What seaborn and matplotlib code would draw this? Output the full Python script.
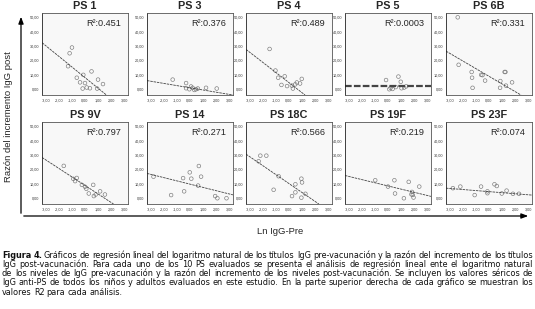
# Regresión lineal Ln IgG-Pre vs razón del incremento IgG post (10 PS)
import numpy as np
import pandas as pd
import matplotlib
matplotlib.use("Agg")
import matplotlib.pyplot as plt
import seaborn as sns

sns.set_style("white")
plt.rcParams['font.family'] = ['Liberation Sans', 'DejaVu Sans']

# --- data ---
names = ["PS 1", "PS 3", "PS 4", "PS 5", "PS 6B", "PS 9V", "PS 14", "PS 18C", "PS 19F", "PS 23F"]
r2_labels = ["0.451", "0.376", "0.489", "0.0003", "0.331", "0.797", "0.271", "0.566", "0.219", "0.074"]

ps1_x = [-1.0, -1.18, -1.3, -0.63, -0.13, 0.5, 1.0, 0.0, 0.13, -0.18, 0.38, 1.38, 0.93, -0.38]
ps1_y = [29, 25, 16, 8, 10, 12.4, 6.7, 4.3, 1.2, 0.5, 0.7, 3.6, 0.5, 4.8]
ps3_x = [-1.33, -0.3, -0.3, 0.08, 0.2, 0.46, 1.23, 2.05, 0.33, -0.05, 0.6]
ps3_y = [6.7, 4.3, 0.7, 1.9, 1.0, 0.0, 1.0, 0.5, -0.5, 0.0, 0.5]
ps4_x = [-1.49, -1.04, -0.83, -0.33, -0.58, -0.15, 0.98, 0.48, 0.6, 0.85, 0.22, 0.3]
ps4_y = [28, 13, 8, 9, 3, 2.2, 7.2, 3.4, 4.7, 4.0, 2.5, 0.5]
ps5_x = [-0.15, 0.8, 0.98, 0.1, 0.35, 1.24, 1.04, 0.6, 0.2, 1.4]
ps5_y = [6.4, 8.8, 5.2, 0.0, 0.2, 1.2, 0.7, 1.5, 1.0, 2.0]
ps6b_x = [-2.4, -2.33, -1.33, -1.3, -1.26, -0.6, -0.5, -0.3, 1.26, 0.87, 0.85, 1.3, 1.77, 1.2]
ps6b_y = [50, 17, 12, 8, 1, 10, 9.8, 6, 12, 5.7, 1, 2.5, 4.8, 12]
ps9v_x = [-1.63, -0.63, -0.76, -0.24, 0.1, 0.63, 0.29, 0.68, 1.16, 1.53, 0.82, -0.9, 0.0]
ps9v_y = [22.5, 14.1, 11.9, 9.3, 6.6, 9.3, 3.3, 1.5, 4.8, 2.6, 2.6, 13.5, 8.0]
ps14_x = [-2.8, -1.45, -0.53, -0.02, 0.1, 0.68, 0.85, 0.62, -0.45, 1.93, 2.1, 2.8]
ps14_y = [15, 2.2, 14, 18, 13.6, 22.4, 15, 8.8, 4.8, 1.5, 0.0, 0.0]
ps18c_x = [-2.2, -1.74, -2.33, -0.8, -1.18, 0.49, 0.95, 1.0, 0.49, 0.23, 1.26, 0.95]
ps18c_y = [29.6, 29.6, 25.7, 15.3, 5.9, 9.7, 13.6, 11.0, 4.1, 1.5, 3.1, 0.4]
ps19f_x = [-0.98, 0.49, 0.0, 0.54, 1.22, 1.59, 1.84, 1.8, 1.9, 2.4, 1.96]
ps19f_y = [12.5, 12.5, 8.1, 3.3, 0.0, 11.4, 4.4, 2.7, 2.3, 8.1, 0.5]
ps23f_x = [-2.77, -2.2, -0.61, -1.1, -0.12, 0.42, 0.6, 1.35, 0.98, 1.84, 2.3, -0.12]
ps23f_y = [7, 8.1, 8.1, 2.2, 4.8, 9.7, 8.5, 5.3, 3.3, 3.1, 3.1, 3.5]

# regression lines (y = intercept + slope * x)
slopes = [-7.36, -1.52, -7.0, 0.0, -5.3, -5.9, -2.26, -6.2, -2.2, -0.73]
intercepts = [8.1, 1.0, 4.6, 2.4, 9.0, 8.9, 9.8, 10.2, 8.55, 4.6]

xs = [ps1_x, ps3_x, ps4_x, ps5_x, ps6b_x, ps9v_x, ps14_x, ps18c_x, ps19f_x, ps23f_x]
ys = [ps1_y, ps3_y, ps4_y, ps5_y, ps6b_y, ps9v_y, ps14_y, ps18c_y, ps19f_y, ps23f_y]

x_ticks = [-3, -2, -1, 0, 1, 2, 3]
x_ticklabels = ["-3,00", "-2,00", "-1,00", "0,00", "1,00", "2,00", "3,00"]
y_ticks = [0, 10, 20, 30, 40, 50]
y_ticklabels = ["0,00", "10,00", "20,00", "30,00", "40,00", "50,00"]

caption = [
    "Figura 4. Gráficos de regresión lineal del logaritmo natural de los títulos IgG pre-vacunación y la razón del incremento de los títulos",
    "IgG post-vacunación. Para cada uno de los 10 PS evaluados se presenta el análisis de regresión lineal ente el logaritmo natural",
    "de los niveles de IgG pre-vacunación y la razón del incremento de los niveles post-vacunación. Se incluyen los valores séricos de",
    "IgG anti-PS de todos los niños y adultos evaluados en este estudio. En la parte superior derecha de cada gráfico se muestran los",
    "valores R2 para cada análisis.",
]

# --- figure ---
W, H = 535, 309
fig = plt.figure(figsize=(W / 100, H / 100), dpi=100)

lefts = [42, 147, 246, 345, 446]
tops = [13, 122]
aw, ah = 86, 82

for i, name in enumerate(names):
    row, col = divmod(i, 5)
    ax = fig.add_axes([lefts[col] / W, 1 - (tops[row] + ah) / H, aw / W, ah / H])
    ax.set_facecolor("#f8f8f8")
    ax.set_xlim(-3.3, 3.3)
    ax.set_ylim(-4, 53)
    df = pd.DataFrame({"x": xs[i], "y": ys[i]})
    sns.scatterplot(data=df, x="x", y="y", ax=ax, s=7, marker="o",
                    facecolor="none", edgecolor="#777777", linewidth=0.45)
    ax.axline((0, intercepts[i]), slope=slopes[i], color="#444444",
              lw=1.6 if name == "PS 5" else 0.6, ls=(0, (3, 1)))
    ax.set_xticks(x_ticks)
    ax.set_xticklabels(x_ticklabels)
    ax.set_yticks(y_ticks)
    ax.set_yticklabels(y_ticklabels)
    ax.tick_params(labelsize=2.7, length=1.2, width=0.4, pad=1, colors="#333333")
    ax.set_xlabel("")
    ax.set_ylabel("")
    for s in ax.spines.values():
        s.set_color("#555555")
        s.set_linewidth(0.6)
    ax.spines["left"].set_color("#222222")
    ax.set_title(name, fontsize=7.8, fontweight="bold", pad=3)
    ax.text(0.92, 0.87, "R²:" + r2_labels[i], transform=ax.transAxes,
            ha="right", va="center", fontsize=6.6)

# axis arrows and labels on an overlay in pixel coords
ov = fig.add_axes([0, 0, 1, 1], facecolor="none")
ov.set_xlim(0, W)
ov.set_ylim(H, 0)
ov.axis("off")
ov.annotate("", xy=(21, 14), xytext=(21, 216),
            arrowprops=dict(arrowstyle="-|>,head_width=0.15,head_length=0.4", lw=0.9, color="black"))
ov.annotate("", xy=(531, 216), xytext=(21, 216),
            arrowprops=dict(arrowstyle="-|>,head_width=0.15,head_length=0.4", lw=0.9, color="black"))
ov.text(9, 117, "Razón del incremento IgG post", rotation=90, ha="center", va="center", fontsize=6.8)
ov.text(280, 232, "Ln IgG-Pre", ha="center", va="center", fontsize=6.8)

# justified caption
renderer = fig.canvas.get_renderer()
x0, x1 = 2, 533
for i, line in enumerate(caption):
    yy = 1 - (255 + i * 9.3) / H
    words = line.split(" ")
    arts = []
    for j, w in enumerate(words):
        bold = (i == 0 and j < 2)
        arts.append(fig.text(0, yy, w, fontsize=5.9, va="center", ha="left", family="DejaVu Sans",
                             fontweight="bold" if bold else "normal", color="#111111"))
    widths = [t.get_window_extent(renderer).width for t in arts]
    if i == len(caption) - 1:
        gap = 2.2
    else:
        gap = (x1 - x0 - sum(widths)) / (len(words) - 1)
    x = x0
    for t, w in zip(arts, widths):
        t.set_x(x / W)
        x += w + gap

plt.savefig("out.png", dpi=100)
